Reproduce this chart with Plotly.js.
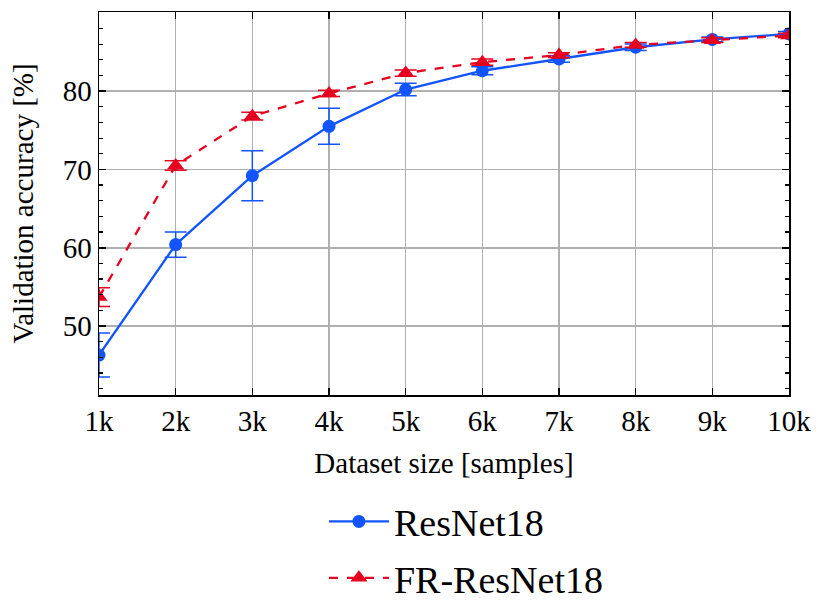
<!DOCTYPE html>
<html>
<head>
<meta charset="utf-8">
<script src="https://cdn.plot.ly/plotly-3.0.1.min.js"></script>
<style>
body{margin:0;background:#fff}
#chart{width:830px;height:609px}
</style>
</head>
<body>
<div id="chart"></div>
<script>
// dataset sizes and tick text
let sizes = [1000,2000,3000,4000,5000,6000,7000,8000,9000,10000]
let sizeLabels = ["1k","2k","3k","4k","5k","6k","7k","8k","9k","10k"]

// ResNet18 mean accuracy and spread
let resnetAcc = [46.3,60.4,69.2,75.5,80.2,82.6,84.1,85.6,86.6,87.3]
let resnetErr = [2.8,1.6,3.2,2.3,0.8,0.5,0.4,0.4,0.3,0.3]

// FR-ResNet18
let frAcc = [53.7,70.5,76.8,79.7,82.3,83.7,84.6,85.9,86.5,87.1]
let frErr = [1.2,0.6,0.5,0.4,0.4,0.4,0.3,0.3,0.3,0.3]

let blue = "#1254ff"
let red = "#e6001f"

let traces = [
{
x:sizes,
y:resnetAcc,
name:"ResNet18",
legendgroup:"a",
type:"scatter",
mode:"lines+markers",
line:{color:blue,width:2.3},
marker:{symbol:"circle",size:13,color:blue},
error_y:{type:"data",array:resnetErr,visible:true,color:blue,thickness:1.5,width:11}
},
{
x:sizes,
y:frAcc,
name:"FR-ResNet18",
legendgroup:"b",
type:"scatter",
mode:"lines+markers",
line:{color:red,width:2.3,dash:"dash"},
marker:{symbol:"triangle-up",size:15,color:red},
error_y:{type:"data",array:frErr,visible:true,color:red,thickness:1.5,width:11}
}
]

let font = {family:"Liberation Serif",size:29,color:"#000"}

let layout = {
width:830,
height:609,
margin:{l:99,r:41,t:12,b:214,autoexpand:false},
paper_bgcolor:"#fff",
plot_bgcolor:"#fff",
font:font,
showlegend:true,
legend:{
x:0.326,
xanchor:"left",
yref:"container",
y:0.195,
yanchor:"top",
font:{family:"Liberation Serif",size:38,color:"#000"},
itemwidth:60,
tracegroupgap:4
},
xaxis:{
range:[1000,10000],
tickvals:sizes,
ticktext:sizeLabels,
ticks:"inside",
ticklen:7,
tickwidth:1.5,
tickcolor:"#000",
showline:true,
linecolor:"#000",
linewidth:1.5,
mirror:"ticks",
showgrid:true,
gridcolor:"#b0b0b0",
gridwidth:1.5,
zeroline:false,
tickfont:font,
title:{text:"Dataset size [samples]",font:font,standoff:16}
},
yaxis:{
range:[41.2,90.1],
tickvals:[50,60,70,80],
ticks:"inside",
ticklen:7,
tickwidth:1.5,
tickcolor:"#000",
showline:true,
linecolor:"#000",
linewidth:1.5,
mirror:"ticks",
showgrid:true,
gridcolor:"#b0b0b0",
gridwidth:1.5,
zeroline:false,
tickfont:font,
minor:{dtick:2,tick0:0,ticks:"inside",ticklen:4,tickwidth:1.2,tickcolor:"#000",showgrid:false},
title:{text:"Validation accuracy [%]",font:font,standoff:20}
}
}

Plotly.newPlot("chart",traces,layout,{displayModeBar:false,staticPlot:true})
</script>
</body>
</html>
